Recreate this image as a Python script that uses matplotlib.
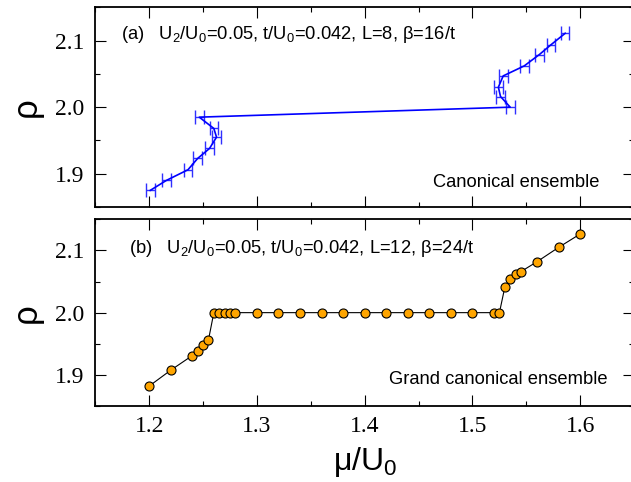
import matplotlib
matplotlib.use("Agg")
import matplotlib.pyplot as plt
from matplotlib.ticker import MultipleLocator

plt.rcParams['font.family'] = ['Liberation Sans', 'DejaVu Sans']
plt.rcParams['mathtext.fontset'] = 'custom'
plt.rcParams['mathtext.rm'] = 'Liberation Sans'
plt.rcParams['mathtext.it'] = 'Liberation Sans:italic'

# (a) canonical ensemble, L=8
mu_a = [1.201, 1.216, 1.236, 1.245, 1.256, 1.2625, 1.260, 1.2465,
        1.535, 1.526, 1.524, 1.5285, 1.548, 1.562, 1.573, 1.586]
rho_a = [1.875, 1.890, 1.906, 1.923, 1.938, 1.955, 1.968, 1.985,
         2.000, 2.016, 2.030, 2.047, 2.062, 2.079, 2.094, 2.111]
err_a = [0.004] * len(mu_a)

# (b) grand canonical ensemble, L=12
mu_b = [1.20, 1.22, 1.24, 1.245, 1.25, 1.255, 1.26, 1.265, 1.27, 1.275, 1.28,
        1.30, 1.32, 1.34, 1.36, 1.38, 1.40, 1.42, 1.44, 1.46, 1.48, 1.50,
        1.52, 1.525, 1.53, 1.535, 1.54, 1.545, 1.56, 1.58, 1.60]
rho_b = [1.882, 1.9075, 1.931, 1.939, 1.9485, 1.956, 2.0, 2.0, 2.0, 2.0, 2.0,
         2.0, 2.0, 2.0, 2.0, 2.0, 2.0, 2.0, 2.0, 2.0, 2.0, 2.0,
         2.0, 2.0, 2.041, 2.054, 2.0615, 2.066, 2.082, 2.105, 2.1265]

xticks = [1.2, 1.3, 1.4, 1.5, 1.6]
yticks = [1.9, 2.0, 2.1]

fig = plt.figure(figsize=(6.31, 4.82), dpi=100)
ax1 = fig.add_axes([0.151, 0.5705, 0.854, 0.4143])
ax2 = fig.add_axes([0.151, 0.1577, 0.854, 0.3873])

for ax in (ax1, ax2):
    ax.set_xlim(1.15, 1.65)
    ax.set_ylim(1.85, 2.15)
    ax.set_xticks(xticks)
    ax.set_yticks(yticks)
    ax.xaxis.set_minor_locator(MultipleLocator(0.05))
    ax.yaxis.set_minor_locator(MultipleLocator(0.05))
    ax.tick_params(which='both', direction='in', top=True, right=True, width=0.8)
    ax.tick_params(which='major', length=8)
    ax.tick_params(which='minor', length=3.5)
    ax.tick_params(axis='y', pad=8)
    ax.tick_params(axis='x', pad=7)
    for lab in ax.get_xticklabels() + ax.get_yticklabels():
        lab.set_family('Liberation Serif')
        lab.set_fontsize(17)
    for s in ax.spines.values():
        s.set_linewidth(1.3)
    ax.set_ylabel('ρ', fontsize=25, labelpad=9)

ax1.tick_params(axis='x', labelbottom=False)

ax1.errorbar(mu_a, rho_a, xerr=err_a, color='#0000ff', lw=1.2,
             ecolor='#3030ff', elinewidth=1.0, capsize=5, capthick=1.0)
ax1.text(0.048, 0.864, r'(a)   U$_\mathrm{2}$/U$_\mathrm{0}$=0.05, t/U$_\mathrm{0}$=0.042, L=8, β=16/t',
         transform=ax1.transAxes, fontsize=13.2, va='center', ha='left')
ax1.text(0.935, 0.125, 'Canonical ensemble', transform=ax1.transAxes,
         fontsize=13.2, va='center', ha='right')

ax2.plot(mu_b, rho_b, color='black', lw=0.8, marker='o', markersize=6.5,
         markerfacecolor='#ffa500', markeredgecolor='black', markeredgewidth=0.8)
ax2.text(0.062, 0.846, r'(b)   U$_\mathrm{2}$/U$_\mathrm{0}$=0.05, t/U$_\mathrm{0}$=0.042, L=12, β=24/t',
         transform=ax2.transAxes, fontsize=13.2, va='center', ha='left')
ax2.text(0.951, 0.140, 'Grand canonical ensemble', transform=ax2.transAxes,
         fontsize=13.2, va='center', ha='right')
ax2.set_xlabel(r'μ/U$_\mathrm{0}$', fontsize=23, labelpad=6)

fig.savefig('out.png', dpi=100)
